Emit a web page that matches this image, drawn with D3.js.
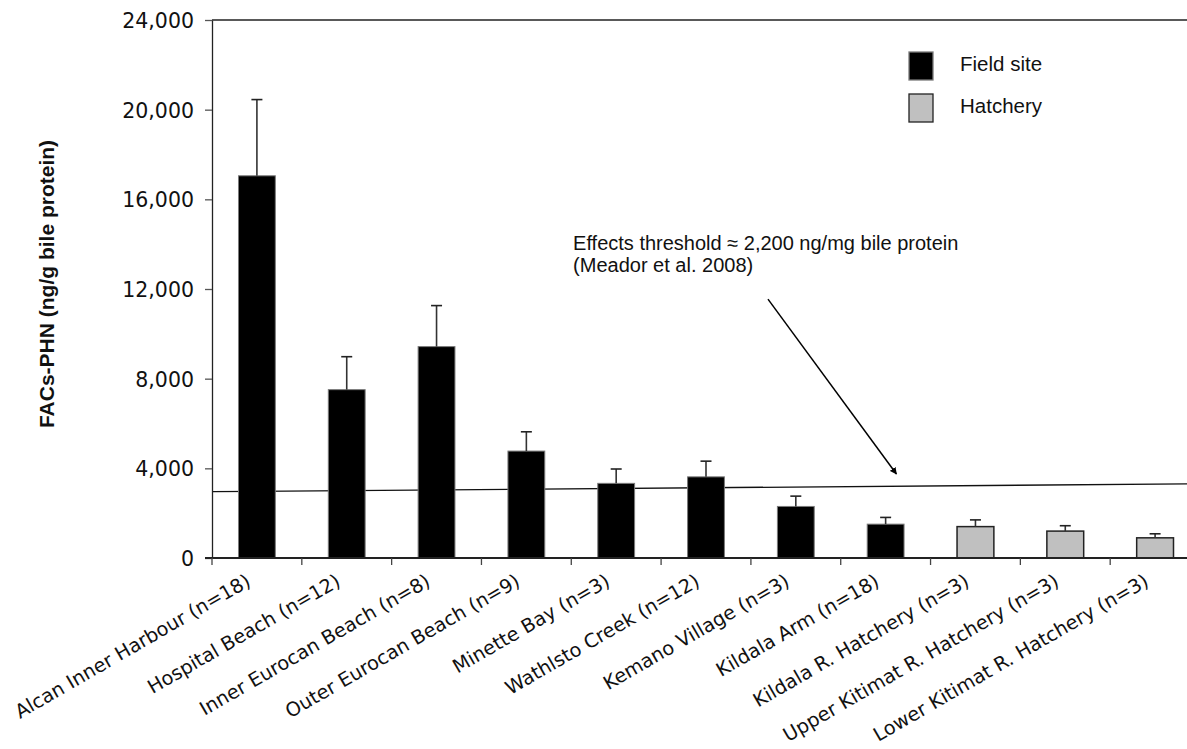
<!DOCTYPE html>
<html>
<head>
<meta charset="utf-8">
<script src="https://cdn.jsdelivr.net/npm/d3@7"></script>
<style>
  body { margin: 0; background: #fff; }
  svg { display: block; }
</style>
</head>
<body>
<svg width="1187" height="749"></svg>
<script>
var sites = ["Alcan Inner Harbour (n=18)", "Hospital Beach (n=12)", "Inner Eurocan Beach (n=8)",
  "Outer Eurocan Beach (n=9)", "Minette Bay (n=3)", "Wathlsto Creek (n=12)", "Kemano Village (n=3)",
  "Kildala Arm (n=18)", "Kildala R. Hatchery (n=3)", "Upper Kitimat R. Hatchery (n=3)",
  "Lower Kitimat R. Hatchery (n=3)"];
var siteType = ["Field site", "Field site", "Field site", "Field site", "Field site", "Field site",
  "Field site", "Field site", "Hatchery", "Hatchery", "Hatchery"];
var means = [17050, 7510, 9430, 4770, 3330, 3620, 2300, 1510, 1400, 1200, 900];
var errs = [3400, 1470, 1830, 860, 640, 700, 460, 300, 300, 240, 180];
var yTicks = [0, 4000, 8000, 12000, 16000, 20000, 24000];
// threshold line as drawn: value at left and right end of the axis
var threshold = [2960, 3310];
var noteLines = ["Effects threshold \u2248 2,200 ng/mg bile protein", "(Meador et al. 2008)"];
var legendItems = ["Field site", "Hatchery"];

var svg = d3.select("svg"),
    margin = {top: 20, left: 212, bottom: 191},
    plotRight = 1200,
    height = 749 - margin.bottom;

var colors = {"Field site": "#000", "Hatchery": "#c0c0c0"},
    strokes = {"Field site": "#7a7a7a", "Hatchery": "#222"};

var x = d3.scaleBand().domain(sites).range([margin.left, plotRight]),
    xi = d3.scaleLinear().domain([0, sites.length]).range([margin.left, plotRight]),
    y = d3.scaleLinear().domain([0, 24000]).range([height, margin.top]);

var barW = x.bandwidth() * 0.41;

// frame top line
svg.append("line")
    .attr("x1", margin.left).attr("x2", plotRight)
    .attr("y1", y(24000)).attr("y2", y(24000))
    .attr("stroke", "#222").attr("stroke-width", 1.3);

// threshold line (behind bars)
svg.append("line")
    .attr("x1", xi(0)).attr("y1", y(threshold[0]))
    .attr("x2", xi(sites.length)).attr("y2", y(threshold[1]))
    .attr("stroke", "#111").attr("stroke-width", 1.3);

var bars = svg.append("g");
sites.forEach(function(s, i) {
  var cx = x(s) + x.bandwidth() / 2;
  bars.append("rect")
      .attr("x", cx - barW / 2)
      .attr("y", y(means[i]))
      .attr("width", barW)
      .attr("height", y(0) - y(means[i]))
      .attr("fill", colors[siteType[i]])
      .attr("stroke", strokes[siteType[i]])
      .attr("stroke-width", siteType[i] == "Hatchery" ? 1.5 : 1);
  bars.append("line")
      .attr("x1", cx).attr("x2", cx)
      .attr("y1", y(means[i])).attr("y2", y(means[i] + errs[i]))
      .attr("stroke", "#333").attr("stroke-width", 1.6);
  bars.append("line")
      .attr("x1", cx - 5.5).attr("x2", cx + 5.5)
      .attr("y1", y(means[i] + errs[i])).attr("y2", y(means[i] + errs[i]))
      .attr("stroke", "#222").attr("stroke-width", 1.6);
});

// y axis
var yAxis = svg.append("g")
    .attr("transform", "translate(" + margin.left + ",0)")
    .call(d3.axisLeft(y).tickValues(yTicks).tickFormat(d3.format(",")).tickSize(7).tickPadding(11).tickSizeOuter(0));
yAxis.select(".domain").attr("stroke", "#222").attr("stroke-width", 1.3);
yAxis.selectAll(".tick line").attr("stroke", "#555").attr("stroke-width", 1.3);
yAxis.selectAll(".tick text")
    .attr("font-family", "DejaVu Sans, Verdana, sans-serif")
    .attr("font-size", 20.5).attr("fill", "#111").attr("dy", "0.36em");

// x axis line and boundary ticks
svg.append("line")
    .attr("x1", margin.left - 7).attr("x2", plotRight)
    .attr("y1", y(0)).attr("y2", y(0))
    .attr("stroke", "#222").attr("stroke-width", 2);
svg.append("g").selectAll("line")
    .data(d3.range(sites.length + 1))
    .enter().append("line")
    .attr("x1", function(d) { return xi(d); })
    .attr("x2", function(d) { return xi(d); })
    .attr("y1", y(0)).attr("y2", y(0) + 7)
    .attr("stroke", "#444").attr("stroke-width", 1.3);

svg.append("g").selectAll("text")
    .data(sites)
    .enter().append("text")
    .attr("transform", function(d) {
      return "translate(" + (x(d) + x.bandwidth() / 2 - 5) + "," + (y(0) + 27) + ") rotate(-30)";
    })
    .attr("text-anchor", "end")
    .attr("font-family", "DejaVu Sans, Verdana, sans-serif")
    .attr("font-size", 19.3)
    .attr("fill", "#111")
    .text(function(d) { return d; });

// y title
svg.append("text")
    .attr("transform", "translate(54," + ((y(0) + y(24000)) / 2 - 5) + ") rotate(-90)")
    .attr("text-anchor", "middle")
    .attr("font-family", "Liberation Sans, Arial, sans-serif")
    .attr("font-weight", "bold")
    .attr("font-size", 21)
    .attr("fill", "#111")
    .text("FACs-PHN (ng/g bile protein)");

// annotation
svg.append("g").selectAll("text")
    .data(noteLines)
    .enter().append("text")
    .attr("x", xi(4.02))
    .attr("y", function(d, i) { return y(13740) + i * 22; })
    .attr("font-family", "Liberation Sans, Arial, sans-serif")
    .attr("font-size", 20)
    .attr("fill", "#111")
    .text(function(d) { return d; });

svg.append("defs").append("marker")
    .attr("id", "arr")
    .attr("viewBox", "0 0 10 10")
    .attr("refX", 9).attr("refY", 5)
    .attr("markerWidth", 7).attr("markerHeight", 7)
    .attr("markerUnits", "userSpaceOnUse")
    .attr("orient", "auto")
    .append("path").attr("d", "M0,0L10,5L0,10z").attr("fill", "#000");

svg.append("line")
    .attr("x1", xi(6.19)).attr("y1", y(11550))
    .attr("x2", xi(7.62)).attr("y2", y(3750))
    .attr("stroke", "#000").attr("stroke-width", 1.5)
    .attr("marker-end", "url(#arr)");

// legend
var lg = svg.append("g").attr("transform", "translate(909,52)");
legendItems.forEach(function(k, i) {
  lg.append("rect")
      .attr("x", 0).attr("y", i * 42)
      .attr("width", 24).attr("height", 28)
      .attr("fill", colors[k])
      .attr("stroke", strokes[k]).attr("stroke-width", 1.3);
  lg.append("text")
      .attr("x", 51).attr("y", i * 42 + 19)
      .attr("font-family", "Liberation Sans, Arial, sans-serif")
      .attr("font-size", 20.5)
      .attr("fill", "#111")
      .text(k);
});
</script>
</body>
</html>
